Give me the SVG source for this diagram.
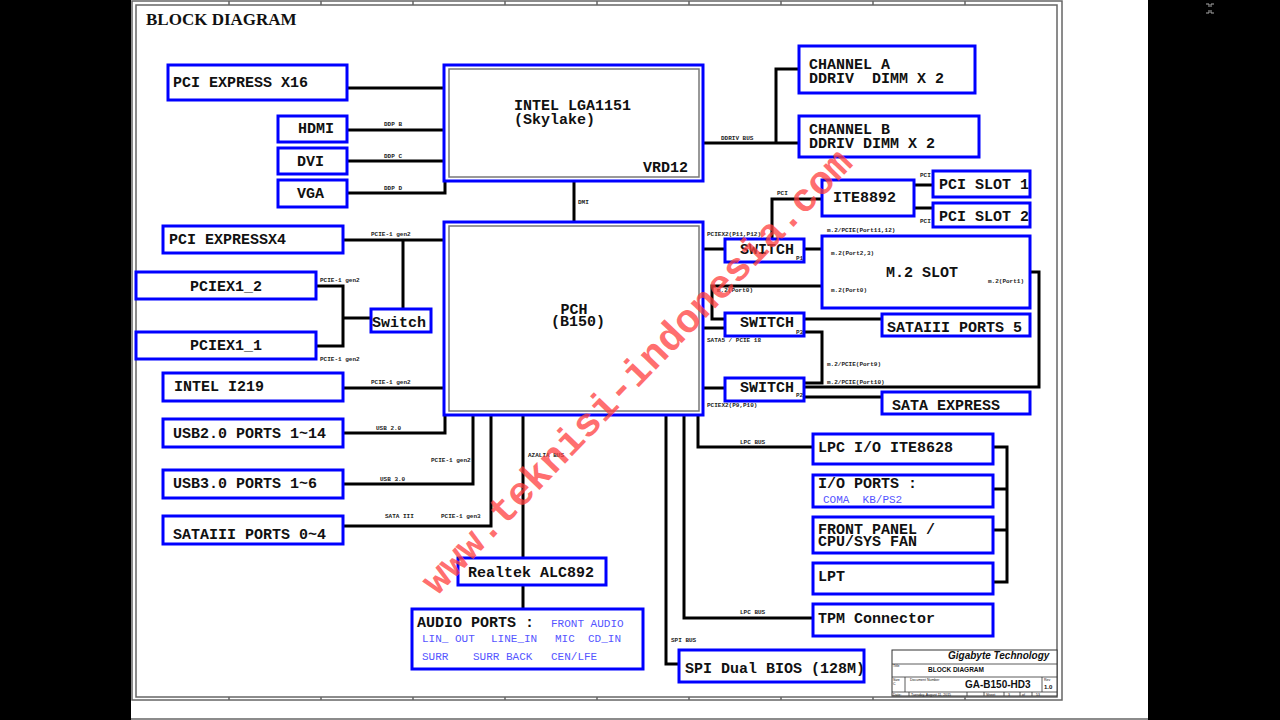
<svg xmlns="http://www.w3.org/2000/svg" width="1280" height="720" viewBox="0 0 1280 720">
<defs>
<style>
.box{fill:#fff;stroke:#0000ff;stroke-width:3}
.inner{fill:none;stroke:#777;stroke-width:1.5}
.t{font-family:"Liberation Mono","Courier New",monospace;font-weight:bold;font-size:15px;fill:#111}
.s{font-family:"Liberation Mono","Courier New",monospace;font-weight:bold;font-size:6px;fill:#222}
.b{font-family:"Liberation Mono","Courier New",monospace;font-size:11px;fill:#5555ff}
.w{fill:none;stroke:#000;stroke-width:3}
.fr{fill:none;stroke:#666;stroke-width:1.5}
.tb{font-family:"Liberation Sans",Arial,sans-serif;fill:#111}
</style>
</defs>
<rect x="0" y="0" width="1280" height="720" fill="#000"/>
<rect x="131" y="0" width="1017" height="720" fill="#fff"/>
<g id="frame">
<rect class="fr" x="132" y="1" width="930" height="699"/>
<rect class="fr" x="136" y="5" width="921" height="692"/>
<path class="fr" d="M229 1V5M321 1V5M413 1V5M505 1V5M597 1V5M689 1V5M781 1V5M873 1V5M965 1V5M229 697V700M321 697V700M413 697V700M505 697V700M597 697V700M689 697V700M781 697V700M873 697V700M965 697V700M131 719H1148"/>
<path d="M1206 4h3v3M1214 4h-3v3M1206 13h3v-3M1214 13h-3v-3" fill="none" stroke="#aaa" stroke-width="1"/>
<text x="146" y="25" font-family="Liberation Serif,'Times New Roman',serif" font-weight="bold" font-size="17" fill="#111">BLOCK DIAGRAM</text>
</g>
<g id="connectors">
<path class="w" d="M348 88H444M348 130H444M348 161H444M348 193H445V181M574 181V222M703 143H799M776 143V69H799M772 239V199H822M914 185H933M914 208H933M343 240H444M403 240V309M316 286H343V346H316M343 318H371M343 388H444M343 433H445V415M343 484H473V415M343 526H491V415M523 415V558M523 585V609M666 415V664H679M684 415V618H813M698 415V447H813M993 447H1007V582H993M993 489H1007M993 530H1007M703 249H725M804 249H822M822 286H712V319H725M703 328H725M804 319H882M804 332H822V383H804M703 388H725M804 387H1039V272H1030M804 397H882"/>
<text class="s" x="384" y="126">DDP B</text>
<text class="s" x="384" y="158">DDP C</text>
<text class="s" x="384" y="190">DDP D</text>
<text class="s" x="578" y="204">DMI</text>
<text class="s" x="721" y="140">DDRIV BUS</text>
<text class="s" x="777" y="195">PCI</text>
<text class="s" x="920" y="177">PCI</text>
<text class="s" x="920" y="223">PCI</text>
<text class="s" x="707" y="236">PCIEX2(P11,P12)</text>
<text class="s" x="827" y="232">m.2/PCIE(Port11,12)</text>
<text class="s" x="717" y="292">m.2(Port0)</text>
<text class="s" x="707" y="342">SATA5 / PCIE 18</text>
<text class="s" x="827" y="366">m.2/PCIE(Port9)</text>
<text class="s" x="827" y="384">m.2/PCIE(Port10)</text>
<text class="s" x="707" y="407">PCIEX2(P9,P10)</text>
<text class="s" x="371" y="236">PCIE-1 gen2</text>
<text class="s" x="320" y="282">PCIE-1 gen2</text>
<text class="s" x="320" y="361">PCIE-1 gen2</text>
<text class="s" x="371" y="384">PCIE-1 gen2</text>
<text class="s" x="376" y="430">USB 2.0</text>
<text class="s" x="431" y="462">PCIE-1 gen2</text>
<text class="s" x="380" y="481">USB 3.0</text>
<text class="s" x="385" y="518">SATA III</text>
<text class="s" x="441" y="518">PCIE-1 gen3</text>
<text class="s" x="528" y="457">AZALIA BUS</text>
<text class="s" x="740" y="444">LPC BUS</text>
<text class="s" x="740" y="614">LPC BUS</text>
<text class="s" x="671" y="642">SPI BUS</text>
</g>
<g id="pcie16"><rect class="box" x="168" y="65" width="179" height="35"/><text class="t" x="173" y="87">PCI EXPRESS X16</text></g>
<g id="hdmi"><rect class="box" x="278" y="116" width="69" height="26"/><text class="t" x="298" y="133">HDMI</text></g>
<g id="dvi"><rect class="box" x="278" y="148" width="69" height="26"/><text class="t" x="297" y="166">DVI</text></g>
<g id="vga"><rect class="box" x="278" y="180" width="69" height="27"/><text class="t" x="297" y="198">VGA</text></g>
<g id="cpu"><rect class="box" x="444" y="65" width="259" height="116"/><rect class="inner" x="449" y="69" width="250" height="108"/>
<text class="t" x="514" y="110">INTEL LGA1151</text><text class="t" x="514" y="124">(Skylake)</text><text class="t" x="643" y="172" font-size="11.5">VRD12</text></g>
<g id="chA"><rect class="box" x="799" y="46" width="176" height="47"/><text class="t" x="809" y="69">CHANNEL A</text><text class="t" x="809" y="83" xml:space="preserve">DDRIV  DIMM X 2</text></g>
<g id="chB"><rect class="box" x="799" y="116" width="180" height="41"/><text class="t" x="809" y="134">CHANNEL B</text><text class="t" x="809" y="148">DDRIV DIMM X 2</text></g>
<g id="ite8892"><rect class="box" x="822" y="180" width="92" height="36"/><text class="t" x="833" y="202">ITE8892</text></g>
<g id="pci1"><rect class="box" x="933" y="171" width="97" height="26"/><text class="t" x="939" y="189">PCI SLOT 1</text></g>
<g id="pci2"><rect class="box" x="933" y="203" width="97" height="24"/><text class="t" x="939" y="221">PCI SLOT 2</text></g>
<g id="pch"><rect class="box" x="444" y="222" width="259" height="193"/><rect class="inner" x="449" y="226" width="250" height="185"/>
<text class="t" x="574" y="314" text-anchor="middle">PCH</text><text class="t" x="578" y="326" text-anchor="middle">(B150)</text></g>
<g id="pcie4"><rect class="box" x="163" y="226" width="180" height="27"/><text class="t" x="169" y="244">PCI EXPRESSX4</text></g>
<g id="pciex12"><rect class="box" x="136" y="272" width="180" height="27"/><text class="t" x="226" y="291" text-anchor="middle">PCIEX1_2</text></g>
<g id="pciex11"><rect class="box" x="136" y="332" width="180" height="27"/><text class="t" x="226" y="350" text-anchor="middle">PCIEX1_1</text></g>
<g id="switchL"><rect class="box" x="371" y="309" width="60" height="23"/><text class="t" x="372" y="327">Switch</text></g>
<g id="i219"><rect class="box" x="163" y="373" width="180" height="28"/><text class="t" x="174" y="391">INTEL I219</text></g>
<g id="usb2"><rect class="box" x="163" y="419" width="180" height="28"/><text class="t" x="173" y="438">USB2.0 PORTS 1~14</text></g>
<g id="usb3"><rect class="box" x="163" y="470" width="180" height="28"/><text class="t" x="173" y="488">USB3.0 PORTS 1~6</text></g>
<g id="sata04"><rect class="box" x="163" y="516" width="180" height="28"/><text class="t" x="173" y="539">SATAIII PORTS 0~4</text></g>
<g id="realtek"><rect class="box" x="458" y="558" width="148" height="27"/><text class="t" x="468" y="577">Realtek ALC892</text></g>
<g id="audio"><rect class="box" x="412" y="609" width="231" height="60"/>
<text class="t" x="417" y="627">AUDIO PORTS :</text>
<text class="b" x="551" y="627">FRONT AUDIO</text>
<text class="b" x="422" y="642">LIN_ OUT</text><text class="b" x="491" y="642">LINE_IN</text><text class="b" x="555" y="642">MIC</text><text class="b" x="588" y="642">CD_IN</text>
<text class="b" x="422" y="660">SURR</text><text class="b" x="473" y="660">SURR BACK</text><text class="b" x="551" y="660">CEN/LFE</text></g>
<g id="switch1"><rect class="box" x="725" y="239" width="79" height="23"/><text class="t" x="740" y="254">SWITCH</text><text class="s" x="796" y="260">P1</text></g>
<g id="switch3"><rect class="box" x="725" y="313" width="79" height="23"/><text class="t" x="740" y="327">SWITCH</text><text class="s" x="796" y="334">P3</text></g>
<g id="switch2"><rect class="box" x="725" y="378" width="79" height="23"/><text class="t" x="740" y="392">SWITCH</text><text class="s" x="796" y="397">P2</text></g>
<g id="m2"><rect class="box" x="822" y="236" width="208" height="72"/><text class="t" x="886" y="277">M.2 SLOT</text>
<text class="s" x="831" y="255">m.2(Port2,3)</text><text class="s" x="831" y="292">m.2(Port0)</text><text class="s" x="988" y="283">m.2(Port1)</text></g>
<g id="sata5"><rect class="box" x="882" y="314" width="148" height="22"/><text class="t" x="887" y="332">SATAIII PORTS 5</text></g>
<g id="sataexp"><rect class="box" x="882" y="392" width="148" height="22"/><text class="t" x="892" y="410">SATA EXPRESS</text></g>
<g id="lpcio"><rect class="box" x="813" y="434" width="180" height="30"/><text class="t" x="818" y="452">LPC I/O ITE8628</text></g>
<g id="ioports"><rect class="box" x="813" y="475" width="180" height="32"/><text class="t" x="818" y="488">I/O PORTS :</text><text class="b" x="823" y="503" xml:space="preserve">COMA  KB/PS2</text></g>
<g id="frontpanel"><rect class="box" x="813" y="517" width="180" height="36"/><text class="t" x="818" y="534">FRONT PANEL /</text><text class="t" x="818" y="546">CPU/SYS FAN</text></g>
<g id="lpt"><rect class="box" x="813" y="563" width="180" height="31"/><text class="t" x="818" y="581">LPT</text></g>
<g id="tpm"><rect class="box" x="813" y="604" width="180" height="32"/><text class="t" x="818" y="623">TPM Connector</text></g>
<g id="spi"><rect class="box" x="679" y="650" width="185" height="32"/><text class="t" x="685" y="673">SPI Dual BIOS (128M)</text></g>
<g id="titleblock">
<rect x="892" y="650" width="165" height="46" fill="#fff" stroke="#333" stroke-width="1"/>
<path d="M892 664H1057M892 677H1057M892 692H1057M905 677V692M1042 677V692M909 692V696M967 692V696M984 692V696M1004 692V696M1020 692V696M1032 692V696" stroke="#333" stroke-width="0.8" fill="none"/>
<text class="tb" x="948" y="659" font-size="10" font-weight="bold" font-style="italic" fill="#2222ee">Gigabyte Technology</text>
<text class="tb" x="893" y="667" font-size="3.5">Title</text>
<text class="tb" x="928" y="672" font-size="6.5" font-weight="bold">BLOCK DIAGRAM</text>
<text class="tb" x="893" y="681" font-size="3.5">Size</text>
<text class="tb" x="893" y="685" font-size="3.5">C</text>
<text class="tb" x="910" y="681" font-size="3.5">Document Number</text>
<text class="tb" x="965" y="688" font-size="10" font-weight="bold">GA-B150-HD3</text>
<text class="tb" x="1044" y="681" font-size="3.5">Rev</text>
<text class="tb" x="1044" y="689" font-size="6" font-weight="bold">1.0</text>
<text class="tb" x="893" y="695.5" font-size="3.5">Date:</text>
<text class="tb" x="911" y="695.5" font-size="3.5">Tuesday, August 11, 2015</text>
<text class="tb" x="986" y="695.5" font-size="3.5">Sheet</text>
<text class="tb" x="1008" y="695.5" font-size="3.5">3</text>
<text class="tb" x="1022" y="695.5" font-size="3.5">of</text>
<text class="tb" x="1036" y="695.5" font-size="3.5">53</text>
</g>
<g id="watermark">
<text transform="translate(637,372) rotate(-46)" x="0" y="12" text-anchor="middle" font-family="Liberation Mono,'Courier New',monospace" font-weight="bold" font-size="40" fill="#ff4040" fill-opacity="0.75">www.teknisi-indonesia.com</text>
</g>
</svg>
